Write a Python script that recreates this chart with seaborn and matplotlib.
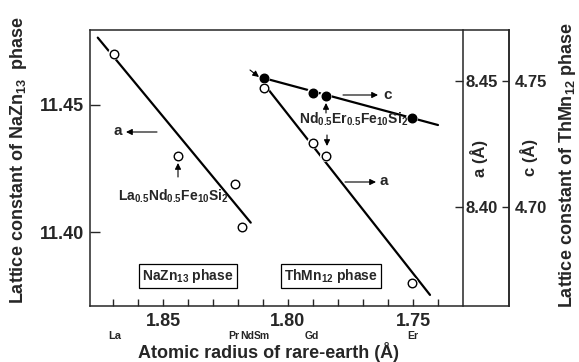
import matplotlib
matplotlib.use("Agg")
import matplotlib.pyplot as plt
import seaborn as sns

# ---------------- data ----------------
# NaZn13 phase (left axis)
nazn_radius = [1.8696, 1.8440, 1.8212, 1.8184]
nazn_a = [11.4701, 11.4299, 11.4189, 11.4020]
nazn_fit_radius = [1.8761, 1.8149]
nazn_fit_a = [11.4765, 11.4037]

# ThMn12 phase (right axes)
thmn_radius = [1.8096, 1.7900, 1.7848, 1.7504]
thmn_a = [8.4472, 8.4254, 8.4202, 8.3698]
thmn_c = [4.7512, 4.7452, 4.7440, 4.7353]
thmn_a_fit_radius = [1.8096, 1.7432]
thmn_a_fit = [8.4488, 8.3651]
thmn_c_fit_radius = [1.8100, 1.7400]
thmn_c_fit = [4.7512, 4.7325]

x_ticks = [1.85, 1.80, 1.75]
y_ticks_left = [11.40, 11.45]
y_ticks_a = [8.40, 8.45]
y_ticks_c = [4.70, 4.75]

element_names = ["La", "Pr", "Nd", "Sm", "Gd", "Er"]
element_radius = [1.8692, 1.8216, 1.8164, 1.8104, 1.7904, 1.7500]

# ---------------- style ----------------
sns.set_theme(style="ticks")
plt.rcParams["font.family"] = ["Liberation Sans", "DejaVu Sans"]
plt.rcParams["font.weight"] = "bold"
plt.rcParams["mathtext.fontset"] = "custom"
plt.rcParams["mathtext.rm"] = "Liberation Sans:bold"
plt.rcParams["mathtext.bf"] = "Liberation Sans:bold"
plt.rcParams["mathtext.it"] = "Liberation Sans:bold"
plt.rcParams["axes.linewidth"] = 1.1

W, H = 579, 362
fig = plt.figure(figsize=(W / 100, H / 100), dpi=100)
fig.patch.set_facecolor("white")

L, R, T, B = 90, 509, 30, 306
ax = fig.add_axes([L / W, (H - B) / H, (R - L) / W, (B - T) / H])
ax_a = ax.twinx()
ax_c = ax.twinx()


def draw(axis, xs, ys, fx_, fy_, filled):
    sns.lineplot(x=fx_, y=fy_, ax=axis, color="black", lw=1.6,
                 sort=False, estimator=None, zorder=2)
    # white halo so the fitted line breaks around each symbol
    sns.scatterplot(x=xs, y=ys, ax=axis, color="white", edgecolor="none",
                    linewidth=0, s=75, zorder=3)
    sns.scatterplot(x=xs, y=ys, ax=axis, color="black" if filled else "white",
                    edgecolor="black", linewidth=1.0, s=38, zorder=5)


draw(ax, nazn_radius, nazn_a, nazn_fit_radius, nazn_fit_a, False)
draw(ax_a, thmn_radius, thmn_a, thmn_a_fit_radius, thmn_a_fit, False)
draw(ax_c, thmn_radius, thmn_c, thmn_c_fit_radius, thmn_c_fit, True)

# limits
ax.set_xlim(1.8792, 1.7116)
ax.set_ylim(11.3709, 11.4795)
ax_a.set_ylim(8.3607, 8.4702)
ax_c.set_ylim(4.6607, 4.7702)

# ticks main
ax.set_xticks(x_ticks)
ax.set_xticklabels([f"{v:.2f}" for v in x_ticks], fontsize=13, fontweight="bold")
ax.set_xticks([1.87, 1.86, 1.84, 1.83, 1.82, 1.81, 1.79, 1.78, 1.77, 1.76, 1.74],
              minor=True)
ax.tick_params(axis="x", which="both", direction="in", length=5, width=1.0,
               pad=5, top=False)
ax.set_yticks(y_ticks_left)
ax.set_yticklabels([f"{v:.2f}" for v in y_ticks_left], fontsize=13, fontweight="bold")
ax.tick_params(axis="y", direction="in", length=7, width=1.0, pad=4, right=False)
ax.set_xlabel("")
ax.set_ylabel("")

# a axis (inner right spine)
a_pos = (463 - L) / (R - L)
ax_a.spines["right"].set_position(("axes", a_pos))
ax_a.set_yticks(y_ticks_a)
ax_a.set_yticklabels([f"{v:.2f}" for v in y_ticks_a], fontsize=12, fontweight="bold")
ax_a.tick_params(axis="y", direction="in", length=6, width=1.0, pad=2)
ax_a.set_ylabel("")
for s in ["left", "top", "bottom"]:
    ax_a.spines[s].set_visible(False)

ax_c.set_yticks(y_ticks_c)
ax_c.set_yticklabels([f"{v:.2f}" for v in y_ticks_c], fontsize=12, fontweight="bold")
ax_c.tick_params(axis="y", direction="in", length=5, width=1.0, pad=4)
ax_c.set_ylabel("")
for s in ["left", "top", "bottom"]:
    ax_c.spines[s].set_visible(False)

# element labels under the x tick labels
xt = ax.get_xaxis_transform()
for name, r in zip(element_names, element_radius):
    ax.text(r, -0.109, name, transform=xt, ha="center", va="center",
            fontsize=7.5 if name != "La" else 8, fontweight="bold")

# axis labels
def fx(px):
    return px / W

def fy(py):
    return 1 - py / H

fig.text(fx(268), fy(352), "Atomic radius of rare-earth (Å)", ha="center",
         va="center", fontsize=13, fontweight="bold")
fig.text(fx(19), fy(160), "Lattice constant of NaZn$_{13}$  phase", rotation=90,
         ha="center", va="center", fontsize=13, fontweight="bold")
fig.text(fx(567), fy(165), "Lattice constant of ThMn$_{12}$ phase", rotation=90,
         ha="center", va="center", fontsize=13, fontweight="bold")
fig.text(fx(479), fy(158), "a (Å)", rotation=90, ha="center", va="center",
         fontsize=12, fontweight="bold")
fig.text(fx(529), fy(157), "c (Å)", rotation=90, ha="center", va="center",
         fontsize=12, fontweight="bold")

# annotations (figure pixel coords)
def arrow(x0, y0, x1, y1):
    ax_c.annotate("", xy=(fx(x1), fy(y1)), xytext=(fx(x0), fy(y0)),
                  xycoords="figure fraction", textcoords="figure fraction",
                  arrowprops=dict(arrowstyle="-|>", color="black", lw=0.8,
                                  mutation_scale=9, shrinkA=0, shrinkB=0))

def label(x, y, s, size=11, ha="center"):
    fig.text(fx(x), fy(y), s, ha=ha, va="center", fontsize=size, fontweight="bold")

label(118, 131, "a")
arrow(157, 132, 126, 132)
arrow(178, 177, 178, 163)
label(173, 196, "La$_{0.5}$Nd$_{0.5}$Fe$_{10}$Si$_2$", size=10)

arrow(343, 95, 378, 95)
label(388, 95, "c")
arrow(250, 70, 259, 77)
arrow(326, 113, 326, 103)
label(354, 119, "Nd$_{0.5}$Er$_{0.5}$Fe$_{10}$Si$_2$", size=10)
arrow(327, 135, 327, 146)
arrow(345, 182, 376, 182)
label(384, 181, "a")

box = dict(boxstyle="square,pad=0.25", facecolor="white", edgecolor="black", lw=0.9)
fig.text(fx(188), fy(276), "NaZn$_{13}$ phase", ha="center", va="center",
         fontsize=10, fontweight="bold", bbox=box)
fig.text(fx(331), fy(276), "ThMn$_{12}$ phase", ha="center", va="center",
         fontsize=10, fontweight="bold", bbox=box)

fig.savefig("out.png", dpi=100, facecolor="white")
